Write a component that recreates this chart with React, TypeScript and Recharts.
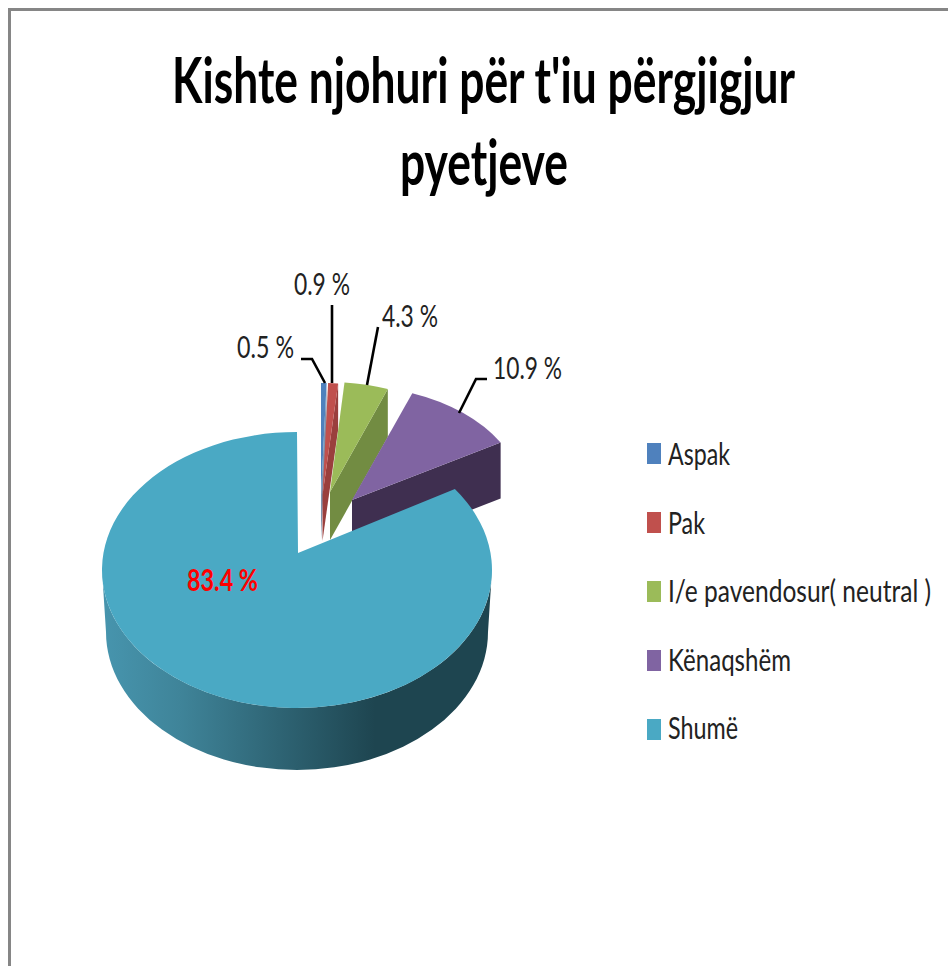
import { Legend, Pie, PieChart } from "recharts";

const categories = ["Aspak", "Pak", "I/e pavendosur( neutral )", "Kënaqshëm", "Shumë"];
const percents = [0.5, 0.9, 4.3, 10.9, 83.4];
const titleLines = ["Kishte njohuri për t'iu përgjigjur", "pyetjeve"];

const topColors = ["#4f81bd", "#c0504d", "#9bbb59", "#8064a2", "#4aa9c4"];
const wallColors = ["#7f93ad", "#9a3f3d", "#728c42", "#3f2f50", "#1e4550"];

// drawing set-up only: how far each wedge is pulled out of the pie centre
const wedgeLayout = [
  { dx: 24, dy: -75, rx: 178, ry: 112, depth: 45, apexDx: 24, apexDy: -75, lead: 0 },
  { dx: 25.5, dy: -75, rx: 178, ry: 112, depth: 46, apexDx: 25.5, apexDy: -75, lead: 0 },
  { dx: 33, dy: -78, rx: 165, ry: 110, depth: 48, apexDx: 33, apexDy: -78, lead: 0 },
  { dx: 55, dy: -70, rx: 172, ry: 114, depth: 56, apexDx: 55, apexDy: -70, lead: 0 },
  { dx: 0, dy: 0, rx: 195, ry: 138, depth: 62, apexDx: 1, apexDy: -17, lead: -5.7 },
];

const labelLayout = [
  { x: 237, y: 358, width: 57, color: "#222", bold: false, line: "301,359 312,359 325,383" },
  { x: 294, y: 295, width: 56, color: "#222", bold: false, line: "332,305 332,383" },
  { x: 382, y: 327, width: 56, color: "#222", bold: false, line: "378,327 367,385" },
  { x: 493, y: 379, width: 69, color: "#222", bold: false, line: "487,379 476,379 459,413" },
  { x: 187, y: 591, width: 71, color: "#ff0000", bold: true, line: "" },
];

const legendTextWidths = [62, 37, 263, 123, 70];

const rows = categories.map((name, i) => ({
  name,
  value: percents[i],
  fill: topColors[i],
}));

const font = "Lato, 'Open Sans', sans-serif";

function Wedge(props: any) {
  const i = props.index as number;
  const box = wedgeLayout[i];
  const cx = props.cx + box.dx;
  const cy = props.cy + box.dy;
  const ax = props.cx + box.apexDx;
  const ay = props.cy + box.apexDy;
  const at = (deg: number) => {
    const r = (deg * Math.PI) / 180;
    return [cx + box.rx * Math.sin(r), cy - box.ry * Math.cos(r)];
  };
  const from = 90 - props.startAngle + box.lead;
  const to = 90 - props.endAngle;
  const [sx, sy] = at(from);
  const [ex, ey] = at(to);
  const large = to - from > 180 ? 1 : 0;
  const top = `M${ax},${ay} L${sx},${sy} A${box.rx},${box.ry} 0 ${large} 1 ${ex},${ey} Z`;

  if (i === 4) {
    const l = cx - box.rx;
    const r = cx + box.rx;
    const rim = `M${l},${cy} A${box.rx},${box.ry} 0 0 0 ${r},${cy} L${r - 4},${cy + box.depth} A${box.rx - 4},${box.ry} 0 0 1 ${l + 4},${cy + box.depth} Z`;
    return (
      <g>
        <defs>
          <linearGradient id="rimShade" x1="0" x2="1" y1="0" y2="0">
            <stop offset="0" stopColor="#4795ae" />
            <stop offset="0.2" stopColor="#3f8499" />
            <stop offset="0.7" stopColor="#1e4550" />
            <stop offset="1" stopColor="#1e4550" />
          </linearGradient>
        </defs>
        <path d={rim} fill="url(#rimShade)" />
        <path d={top} fill={topColors[i]} />
      </g>
    );
  }

  // end wall of a pulled-out wedge, drawn under its top face
  const wall = `M${ax},${ay} L${ex},${ey} L${ex},${ey + box.depth} L${ax},${ay + box.depth} Z`;
  return (
    <g>
      <path d={wall} fill={wallColors[i]} />
      <path d={top} fill={topColors[i]} />
    </g>
  );
}

function PercentLabel(props: any) {
  const i = props.index as number;
  const spot = labelLayout[i];
  return (
    <g>
      {spot.line && <polyline points={spot.line} fill="none" stroke="#000" strokeWidth={2.6} />}
      <text
        x={spot.x}
        y={spot.y}
        textLength={spot.width}
        lengthAdjust="spacingAndGlyphs"
        fontFamily={font}
        fontSize={31}
        fontWeight={spot.bold ? 700 : 400}
        fill={spot.color}
      >
        {`${percents[i]} %`}
      </text>
    </g>
  );
}

function LegendList() {
  return (
    <svg width={948} height={966} style={{ display: "block" }}>
      {categories.map((name, i) => (
        <g key={name}>
          <rect x={647} y={443 + i * 69} width={14} height={21} fill={topColors[i]} />
          <text
            x={668}
            y={465 + i * 68.6}
            textLength={legendTextWidths[i]}
            lengthAdjust="spacingAndGlyphs"
            fontFamily={font}
            fontSize={31}
            fill="#222"
          >
            {name}
          </text>
        </g>
      ))}
    </svg>
  );
}

export default function App() {
  return (
    <div style={{ position: "absolute", left: 0, top: 0, width: 948, height: 966, overflow: "hidden", background: "#fff" }}>
      <div
        style={{
          position: "absolute",
          left: 8,
          top: 8,
          right: 0,
          bottom: 0,
          borderLeft: "3px solid #868686",
          borderTop: "3px solid #868686",
        }}
      />
      <PieChart width={948} height={966} margin={{ top: 0, right: 0, bottom: 0, left: 0 }} style={{ position: "absolute", left: 0, top: 0 }}>
        <text x={172} y={103} textLength={623} lengthAdjust="spacingAndGlyphs" fontFamily={font} fontSize={63} fontWeight={700} fill="#000">
          {titleLines[0]}
        </text>
        <text x={400} y={185} textLength={168} lengthAdjust="spacingAndGlyphs" fontFamily={font} fontSize={63} fontWeight={700} fill="#000">
          {titleLines[1]}
        </text>
        <Pie
          data={rows}
          dataKey="value"
          nameKey="name"
          cx={297}
          cy={570}
          outerRadius={195}
          startAngle={90}
          endAngle={-270}
          stroke="none"
          shape={Wedge}
          label={PercentLabel}
          labelLine={false}
          isAnimationActive={false}
        />
        <Legend
          content={LegendList}
          wrapperStyle={{ position: "absolute", left: 0, top: 0, width: 948, height: 966, pointerEvents: "none" }}
        />
      </PieChart>
    </div>
  );
}
